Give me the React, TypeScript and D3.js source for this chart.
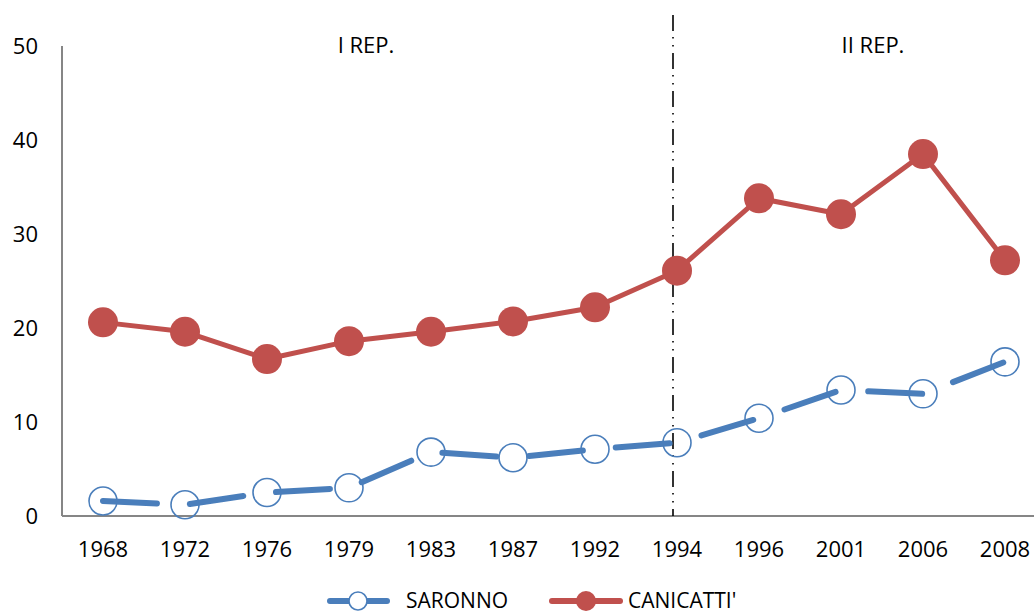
import React from 'react';
import * as d3 from 'd3';

const years = ['1968', '1972', '1976', '1979', '1983', '1987', '1992', '1994', '1996', '2001', '2006', '2008'];
const saronno = [1.6, 1.2, 2.5, 3.0, 6.8, 6.2, 7.1, 7.8, 10.4, 13.4, 13.0, 16.4];
const canicatti = [20.6, 19.6, 16.7, 18.6, 19.6, 20.7, 22.2, 26.1, 33.8, 32.1, 38.5, 27.2];
const yTicks = [0, 10, 20, 30, 40, 50];
const seriesNames = ['SARONNO', "CANICATTI'"];
const periods = ['I REP.', 'II REP.'];

const W = 1034;
const H = 615;
const BLUE = '#4a7ebb';
const RED = '#c0504d';
const AXIS = '#868686';
const FONT = '"Open Sans", "Liberation Sans", sans-serif';

export default function App() {
  const x = d3.scaleBand<string>().domain(years).range([62, 1046]).padding(0);
  const y = d3.scaleLinear().domain([0, 50]).range([516, 46]);
  const cx = (yr: string) => (x(yr) as number) + x.bandwidth() / 2;

  const line = d3.line<number>()
    .x((_, i) => cx(years[i]))
    .y(d => y(d));

  const divX = cx('1994') - 4;

  return (
    <svg width={W} height={H} style={{ position: 'absolute', left: 0, top: 0, background: '#fff' }}
      fontFamily={FONT}>
      {/* axes */}
      <line x1={62} x2={62} y1={y(50)} y2={y(0)} stroke={AXIS} strokeWidth={2} />
      <line x1={62} x2={1046} y1={y(0)} y2={y(0)} stroke={AXIS} strokeWidth={2} />
      {yTicks.map(t => (
        <text key={t} x={38} y={y(t)} dy="0.35em" textAnchor="end" fontSize={22} fill="#000">{t}</text>
      ))}
      {years.map(yr => (
        <text key={yr} x={cx(yr)} y={557} textAnchor="middle" fontSize={22} fill="#000">{yr}</text>
      ))}

      {/* period divider */}
      <line x1={divX} x2={divX} y1={15} y2={y(0)} stroke="#000" strokeWidth={1.6}
        strokeDasharray="16 6 1.5 6.5 1.5 6.5" />
      <text x={cx('1979') + 17} y={53} textAnchor="middle" fontSize={22}>{periods[0]}</text>
      <text x={cx('2001') + 32} y={53} textAnchor="middle" fontSize={22}>{periods[1]}</text>

      {/* CANICATTI' */}
      <path d={line(canicatti) || ''} fill="none" stroke={RED} strokeWidth={5} strokeLinejoin="round" />
      {canicatti.map((v, i) => (
        <circle key={i} cx={cx(years[i])} cy={y(v)} r={15} fill={RED} />
      ))}

      {/* SARONNO */}
      {saronno.map((v, i) => (
        <circle key={i} cx={cx(years[i])} cy={y(v)} r={14} fill="none" stroke={BLUE} strokeWidth={1.6} />
      ))}
      <path d={line(saronno) || ''} fill="none" stroke={BLUE} strokeWidth={6} strokeLinecap="round"
        strokeLinejoin="round" strokeDasharray="54 33" />

      {/* legend */}
      <g transform="translate(0,601)">
        <line x1={330} x2={387} y1={0} y2={0} stroke={BLUE} strokeWidth={6} strokeLinecap="round" />
        <circle cx={358} cy={0} r={9} fill="#fff" stroke={BLUE} strokeWidth={1.6} />
        <text x={406} y={0} dy="0.33em" fontSize={21}>{seriesNames[0]}</text>
        <line x1={552} x2={620} y1={0} y2={0} stroke={RED} strokeWidth={6} strokeLinecap="round" />
        <circle cx={586} cy={0} r={10} fill={RED} />
        <text x={628} y={0} dy="0.33em" fontSize={21}>{seriesNames[1]}</text>
      </g>
    </svg>
  );
}
